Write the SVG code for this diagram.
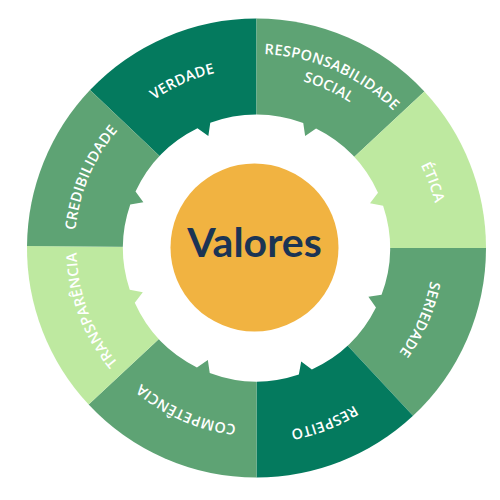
<svg xmlns="http://www.w3.org/2000/svg" xmlns:xlink="http://www.w3.org/1999/xlink" width="500" height="500" viewBox="0 0 500 500">
  <style>
    .dark { fill: #047a5e; }
    .mid { fill: #5ea374; }
    .light { fill: #bee9a0; }
    .lbl { font-family: "Open Sans", "Liberation Sans", sans-serif; font-weight: 600; font-size: 14.5px; letter-spacing: 0.3px; fill: #ffffff; text-anchor: middle; }
    .core-label { font-family: Lato, "Open Sans", sans-serif; font-weight: 700; font-size: 41px; fill: #1b3454; text-anchor: middle; }
  </style>
  <defs>
    <!-- clockwise arcs centred on the top of the ring; labels rotate them into place -->
    <path id="arc173" d="M 86.13 217.96 A 173 173 0 0 1 426.87 217.96"/>
    <path id="arc177" d="M 82.19 217.26 A 177 177 0 0 1 430.81 217.26"/>
    <path id="arc178" d="M 81.21 217.09 A 178 178 0 0 1 431.79 217.09"/>
    <path id="arc180" d="M 79.24 216.74 A 180 180 0 0 1 433.76 216.74"/>
    <path id="arc182" d="M 77.27 216.40 A 182 182 0 0 1 435.73 216.40"/>
    <path id="arc184" d="M 75.30 216.05 A 184 184 0 0 1 437.70 216.05"/>
    <path id="arc185" d="M 74.31 215.87 A 185 185 0 0 1 438.69 215.87"/>
    <path id="arc194" d="M 65.45 214.31 A 194 194 0 0 1 447.55 214.31"/>
  </defs>

  <rect width="500" height="500" fill="#ffffff"/>

  <g id="verdade">
    <path class="dark" d="M 256.5 248 L 90.02 90.01 A 229.5 229.5 0 0 1 256.5 18.5 Z"/>
    <text class="lbl" transform="rotate(336 256.5 248)"><textPath xlink:href="#arc180" startOffset="50%">VERDADE</textPath></text>
  </g>
  <g id="responsabilidade-social">
    <path class="mid" d="M 256.5 248 L 256.5 18.5 A 229.5 229.5 0 0 1 424.35 91.48 Z"/>
    <text class="lbl" transform="rotate(23.7 256.5 248)"><textPath xlink:href="#arc194" startOffset="50%">RESPONSABILIDADE</textPath></text>
    <text class="lbl" transform="rotate(24.2 256.5 248)"><textPath xlink:href="#arc173" startOffset="50%">SOCIAL</textPath></text>
  </g>
  <g id="etica">
    <path class="light" d="M 256.5 248 L 424.35 91.48 A 229.5 229.5 0 0 1 486 248 Z"/>
    <text class="lbl" transform="rotate(69.6 256.5 248)"><textPath xlink:href="#arc184" startOffset="50%">ÉTICA</textPath></text>
  </g>
  <g id="seriedade">
    <path class="mid" d="M 256.5 248 L 486 248 A 229.5 229.5 0 0 1 413.02 415.85 Z"/>
    <text class="lbl" transform="rotate(113.6 256.5 248)"><textPath xlink:href="#arc177" startOffset="50%">SERIEDADE</textPath></text>
  </g>
  <g id="respeito">
    <path class="dark" d="M 256.5 248 L 413.02 415.85 A 229.5 229.5 0 0 1 256.5 477.5 Z"/>
    <text class="lbl" transform="rotate(158.8 256.5 248)"><textPath xlink:href="#arc185" startOffset="50%">RESPEITO</textPath></text>
  </g>
  <g id="competencia">
    <path class="mid" d="M 256.5 248 L 256.5 477.5 A 229.5 229.5 0 0 1 88.65 404.52 Z"/>
    <text class="lbl" transform="rotate(203.5 256.5 248)"><textPath xlink:href="#arc178" startOffset="50%">COMPETÊNCIA</textPath></text>
  </g>
  <g id="transparencia">
    <path class="light" d="M 256.5 248 L 88.65 404.52 A 229.5 229.5 0 0 1 27.01 246 Z"/>
    <text class="lbl" transform="rotate(249.5 256.5 248)"><textPath xlink:href="#arc180" startOffset="50%">TRANSPARÊNCIA</textPath></text>
  </g>
  <g id="credibilidade">
    <path class="mid" d="M 256.5 248 L 27.01 246 A 229.5 229.5 0 0 1 90.02 90.01 Z"/>
    <text class="lbl" transform="rotate(293 256.5 248)"><textPath xlink:href="#arc182" startOffset="50%">CREDIBILIDADE</textPath></text>
  </g>

  <!-- white notched hub: circle with a small V cut in the middle of each segment -->
  <path id="hub" fill="#ffffff" d="M 303.25 122.95 L 305.15 136.11 L 316.07 128.53
    A 133.5 133.5 0 0 1 377.99 192.64 L 370.01 203.29 L 383.10 205.64
    A 133.5 133.5 0 0 1 381.55 294.75 L 368.39 296.65 L 375.97 307.57
    A 133.5 133.5 0 0 1 311.86 369.49 L 301.21 361.51 L 298.86 374.60
    A 133.5 133.5 0 0 1 209.75 373.05 L 207.85 359.89 L 196.93 367.47
    A 133.5 133.5 0 0 1 134.77 302.84 L 142.80 292.21 L 129.72 289.81
    A 133.5 133.5 0 0 1 130.27 204.53 L 143.38 202.30 L 135.51 191.58
    A 133.5 133.5 0 0 1 197.45 128.26 L 208.35 135.91 L 210.29 122.75
    A 133.5 133.5 0 0 1 303.25 122.95 Z"/>

  <g id="valores">
    <circle cx="254.5" cy="247.5" r="84" fill="#f1b341"/>
    <text class="core-label" x="254.5" y="256.5">Valores</text>
  </g>
</svg>
